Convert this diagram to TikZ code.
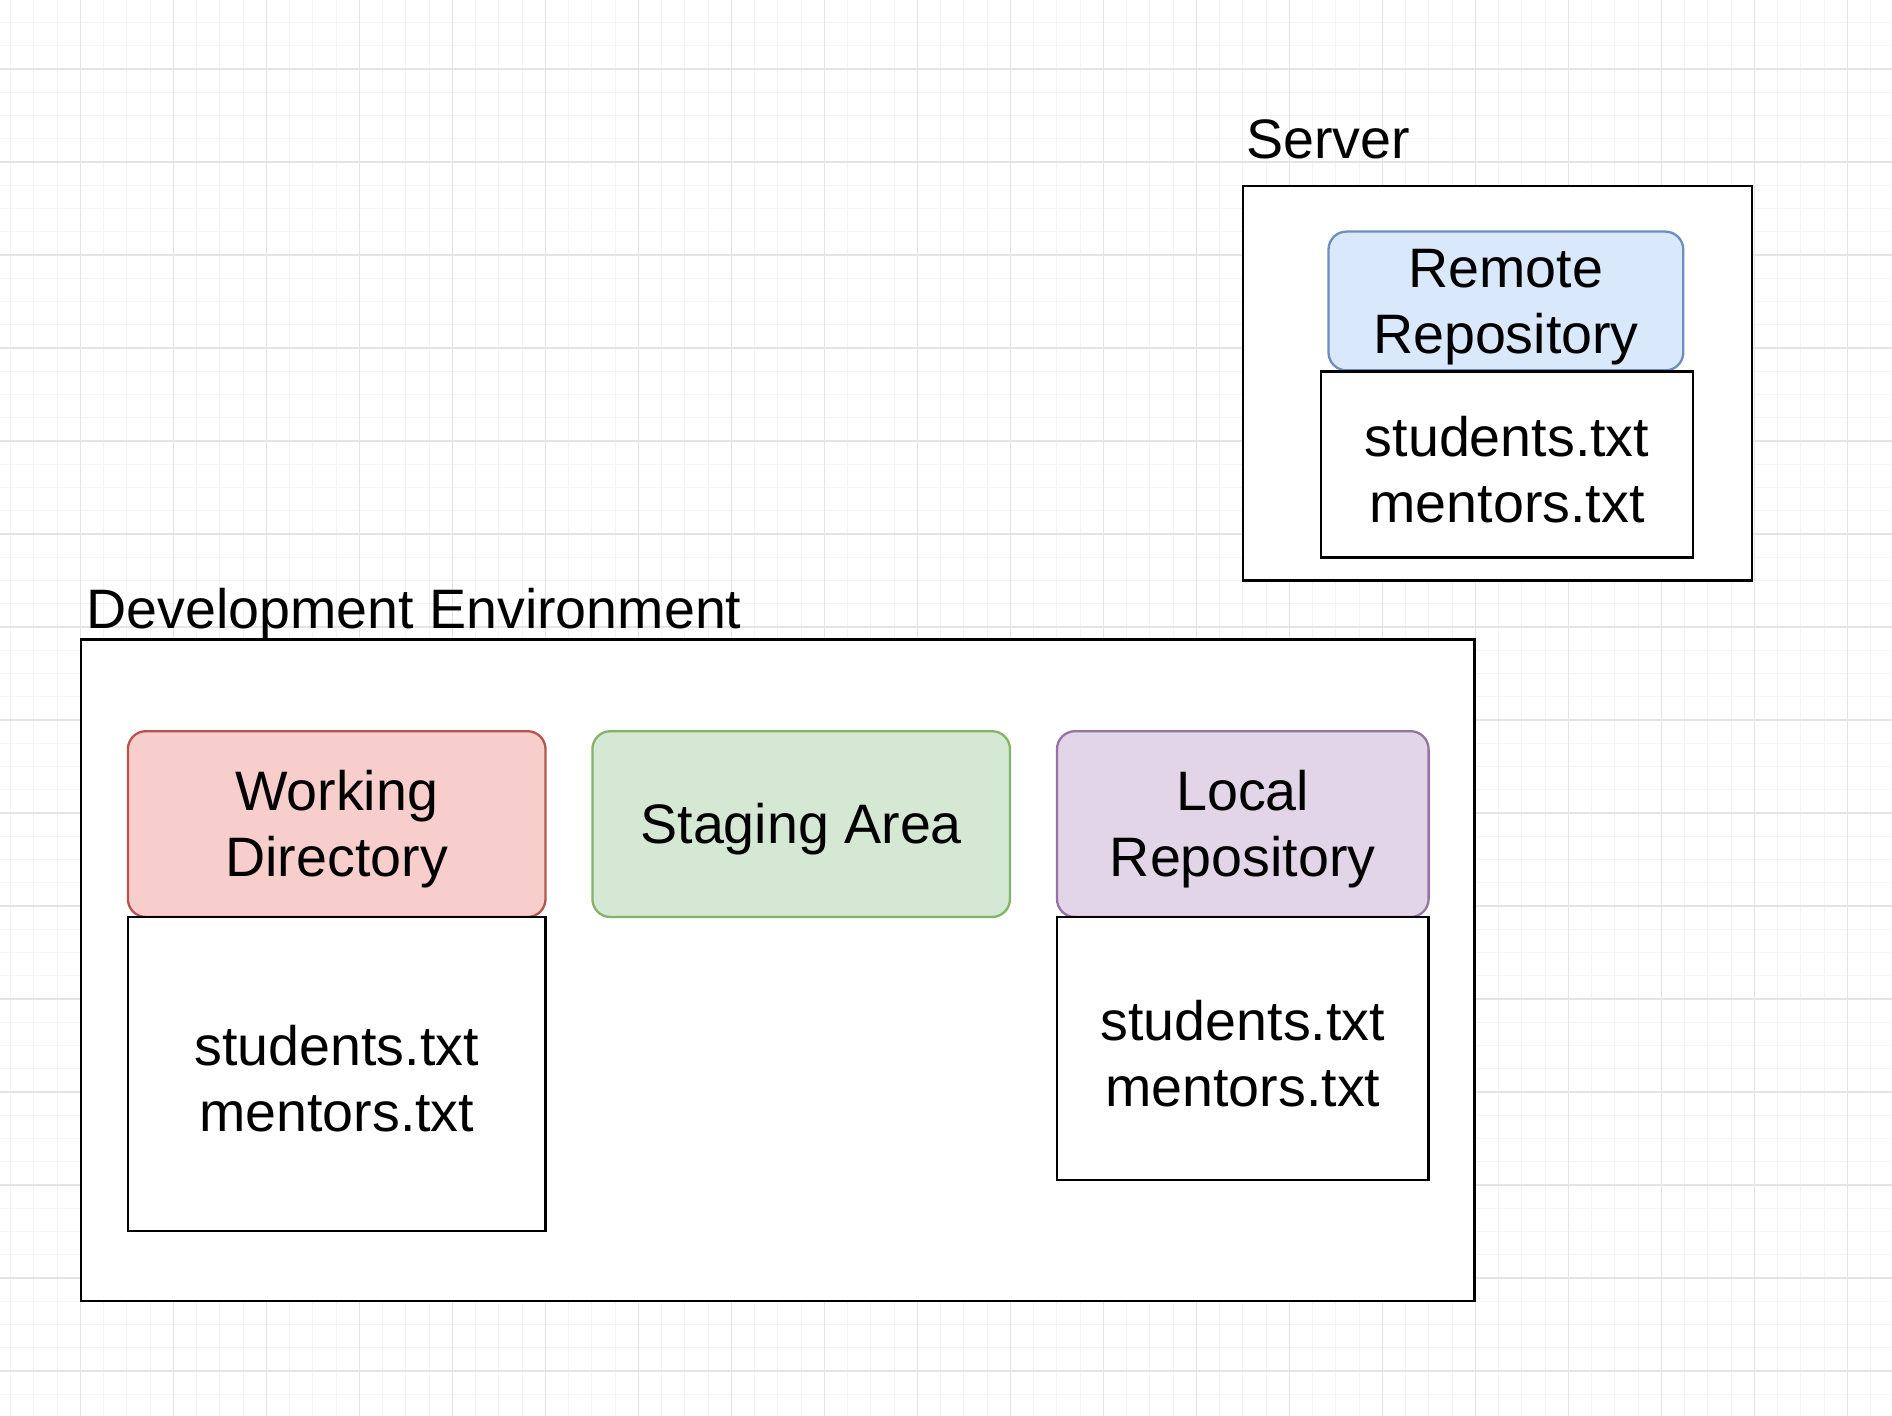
\documentclass[tikz,border=0pt]{standalone}
\usepackage{fontspec}
\setmainfont{Liberation Sans}
\definecolor{gridminor}{HTML}{F4F4F4}
\definecolor{gridmajor}{HTML}{E4E4E4}
\definecolor{blueFill}{HTML}{DAE8FC}
\definecolor{blueLine}{HTML}{6C8EBF}
\definecolor{redFill}{HTML}{F8CECC}
\definecolor{redLine}{HTML}{B85450}
\definecolor{greenFill}{HTML}{D5E8D4}
\definecolor{greenLine}{HTML}{82B366}
\definecolor{purpleFill}{HTML}{E1D5E7}
\definecolor{purpleLine}{HTML}{9673A6}
\newcommand{\txtlift}{\rule{0pt}{25pt}} % push the text a bit lower
\begin{document}
\begin{tikzpicture}[x=0.5pt,y=-0.5pt, % one unit = one pixel
	every node/.style={font=\fontsize{27.8}{33}\selectfont,align=center,inner sep=0pt},
	frame/.style={draw=black,line width=1.15pt,fill=white},
	stage/.style={rounded corners=9pt,line width=1.15pt},
	title/.style={anchor=base west}]
	\useasboundingbox (0,0) rectangle (1892,1416);
	\fill[white] (0,0) rectangle (1892,1416);
	% grid
	\foreach \i in {0,...,80}
		\draw[gridminor,line width=0.5pt] ({10.55+23.25*\i},0) -- ({10.55+23.25*\i},1416);
	\foreach \j in {0,...,60}
		\draw[gridminor,line width=0.5pt] (0,{22.5+23.25*\j}) -- (1892,{22.5+23.25*\j});
	\foreach \i in {0,...,20}
		\draw[gridmajor,line width=0.6pt] ({80.3+93*\i},0) -- ({80.3+93*\i},1416);
	\foreach \j in {0,...,15}
		\draw[gridmajor,line width=0.6pt] (0,{69+93*\j}) -- (1892,{69+93*\j});
	% server
	\node[title] (srvlabel) at (1246,159) {Server};
	\node[frame,minimum width=254.6pt,minimum height=197.3pt] (server) at (1497.4,383.1) {};
	\node[stage,draw=blueLine,fill=blueFill,minimum width=177.4pt,minimum height=69.4pt] (remote) at (1505.9,301) {\txtlift Remote\\Repository};
	\node[frame,minimum width=185.9pt,minimum height=92.9pt] (remotefiles) at (1507,464.5) {\txtlift students.txt\\mentors.txt};
	% development environment
	\node[title] (devlabel) at (86,628.6) {Development Environment};
	\node[frame,minimum width=696.9pt,minimum height=330.6pt] (dev) at (777.7,970.1) {};
	\node[stage,draw=redLine,fill=redFill,minimum width=208.8pt,minimum height=92.9pt] (wd) at (336.7,824.1) {\txtlift Working\\Directory};
	\node[frame,minimum width=208.8pt,minimum height=156.9pt] (wdfiles) at (336.7,1073.9) {\txtlift students.txt\\mentors.txt};
	\node[stage,draw=greenLine,fill=greenFill,minimum width=208.8pt,minimum height=92.9pt] (staging) at (801.2,824.1) {\txtlift Staging Area};
	\node[stage,draw=purpleLine,fill=purpleFill,minimum width=185.8pt,minimum height=92.9pt] (local) at (1242.8,824.1) {\txtlift Local\\Repository};
	\node[frame,minimum width=185.8pt,minimum height=131.5pt] (localfiles) at (1242.8,1048.5) {\txtlift students.txt\\mentors.txt};
\end{tikzpicture}
\end{document}
